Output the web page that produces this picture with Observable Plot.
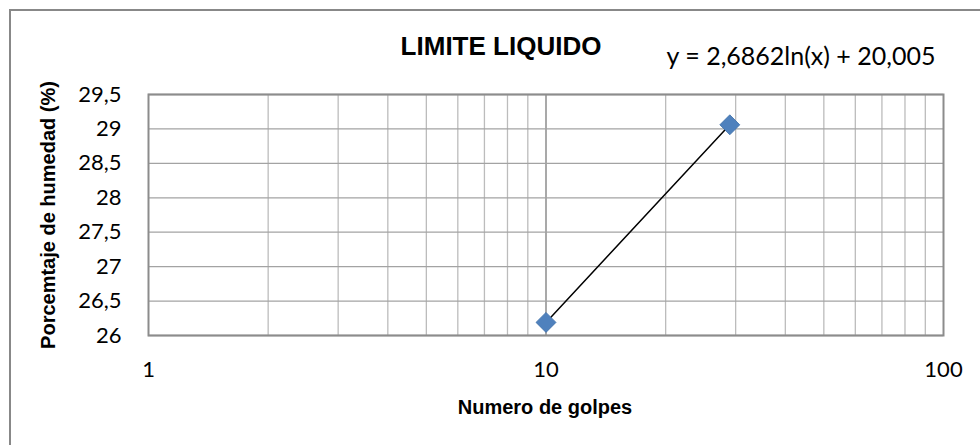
<!DOCTYPE html>
<html>
<head>
<meta charset="utf-8">
<script src="https://cdn.jsdelivr.net/npm/d3@7"></script>
<script src="https://cdn.jsdelivr.net/npm/@observablehq/plot@0.6"></script>
<style>
  html, body { margin: 0; padding: 0; background: #fff; }
  #wrap { position: relative; width: 980px; height: 445px; overflow: hidden; }
  #border { position: absolute; left: 9px; top: 9px; width: 1000px; height: 500px;
            border-left: 2px solid #888; border-top: 2px solid #888; }
  .lbl { position: absolute; font-family: "Liberation Sans", Arial, sans-serif; font-weight: bold; color: #000; white-space: nowrap; }
  #title { left: 501px; top: 46px; transform: translate(-50%, -50%); font-size: 26px; }
  #eq { left: 801px; top: 55px; transform: translate(-50%, -50%); font-family: Lato, sans-serif; font-weight: normal; font-size: 25px; }
  #xlab { left: 545px; top: 407px; transform: translate(-50%, -50%); font-size: 20px; }
  #ylab { left: 48px; top: 215px; transform: translate(-50%, -50%) rotate(-90deg); font-size: 20px; }
</style>
</head>
<body>
<div id="wrap"></div>
<script>
// ---- data ----
const golpes = [10, 29];
const humedad = [26.19, 29.06];
const xTicks = [1, 10, 100];
const xMinorGrid = [2, 3, 4, 5, 6, 7, 8, 9, 20, 30, 40, 50, 60, 70, 80, 90];
const xMajorGrid = [10];
const yTicks = [26, 26.5, 27, 27.5, 28, 28.5, 29, 29.5];
const trendA = "2,6862";
const trendB = "20,005";
const titleText = "LIMITE LIQUIDO";
const xLabel = "Numero de golpes";
const yLabel = "Porcemtaje de humedad (%)";

const pts = golpes.map((g, i) => ({x: g, y: humedad[i]}));
const fmt = d => String(d).replace(".", ",");

const chart = Plot.plot({
  width: 980,
  height: 445,
  marginLeft: 148,
  marginRight: 37,
  marginTop: 94,
  marginBottom: 110,
  style: {fontFamily: "Lato, sans-serif", background: "transparent"},
  x: {type: "log", domain: [1, 100]},
  y: {domain: [26, 29.5]},
  marks: [
    Plot.ruleX(xMinorGrid, {stroke: "#bcbcbc", strokeWidth: 1.3}),
    Plot.ruleX(xMajorGrid, {stroke: "#8c8c8c", strokeWidth: 1.5}),
    Plot.ruleY(yTicks, {stroke: "#a3a3a3", strokeWidth: 1.3}),
    Plot.frame({stroke: "#8c8c8c", strokeWidth: 2}),
    Plot.axisX({ticks: xTicks, tickFormat: d => String(d), tickSize: 0, tickPadding: 26, fontSize: 22, label: null, fill: "#000"}),
    Plot.axisY({ticks: yTicks, tickFormat: fmt, tickSize: 0, tickPadding: 27, fontSize: 22, label: null, fill: "#000"}),
    Plot.line(pts, {x: "x", y: "y", stroke: "#000", strokeWidth: 1.5}),
    Plot.dot(pts, {x: "x", y: "y", symbol: "diamond2", r: 9, fill: "#4f81bd", stroke: "#3f70a8", strokeWidth: 0.8})
  ]
});

const wrap = document.getElementById("wrap");
wrap.appendChild(chart);
const border = document.createElement("div");
border.id = "border";
wrap.appendChild(border);
function addLabel(id, text) {
  const d = document.createElement("div");
  d.id = id; d.className = "lbl"; d.textContent = text;
  wrap.appendChild(d);
}
addLabel("title", titleText);
addLabel("eq", `y = ${trendA}ln(x) + ${trendB}`);
addLabel("xlab", xLabel);
addLabel("ylab", yLabel);
</script>
</body>
</html>
